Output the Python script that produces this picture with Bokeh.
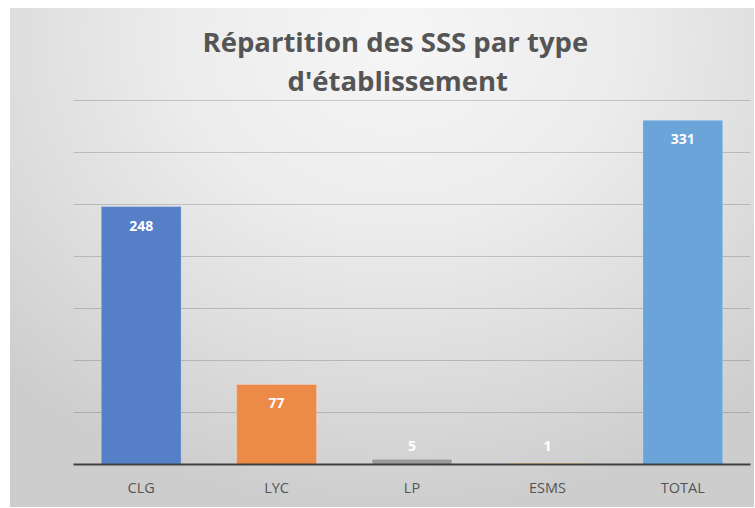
from bokeh.plotting import figure
from bokeh.models import ColumnDataSource, Title, SingleIntervalTicker, FactorRange, Range1d
from bokeh.core.properties import value
from bokeh.embed import file_html
from bokeh.resources import INLINE

# Data
categories = ["CLG", "LYC", "LP", "ESMS", "TOTAL"]
counts = [248, 77, 5, 1, 331]
bar_colors = ["#5580C8", "#EC8A48", "#9A9A9A", "#FFC000", "#6AA4D8"]
title_line1 = "Répartition des SSS par type"
title_line2 = "d'établissement"
y_max = 351
grid_step = 50

# label positions: inside the bar top, but kept above the baseline for tiny bars
label_min = 36
label_y = [max(v, label_min) for v in counts]
label_txt = [str(v) for v in counts]

src = ColumnDataSource(dict(cat=categories, v=counts, color=bar_colors,
                            ly=label_y, lt=label_txt))

p = figure(width=744, height=499, output_backend="svg", toolbar_location=None,
           x_range=FactorRange(*categories, range_padding=0),
           y_range=Range1d(0, y_max),
           min_border_left=63, min_border_right=4, min_border_top=91,
           min_border_bottom=43)

p.background_fill_alpha = 0
p.border_fill_alpha = 0
p.outline_line_color = None
p.styles = {"margin-left": "10px", "margin-top": "8px",
            "background-image":
            "radial-gradient(ellipse 75% 95% at 52% 6%, #f6f6f6 0%, #ececec 40%, #dcdcdc 72%, #cdcdcd 100%)"}

p.vbar(x="cat", top="v", width=0.59, fill_color="color", line_color="white",
       line_alpha=0.25, line_width=1, source=src)

p.text(x="cat", y="ly", text="lt", source=src, text_color="white",
       text_font=value("Open Sans"), text_font_style="bold", text_font_size="14px",
       text_align="center", text_baseline="middle", y_offset=19)

# axes
p.yaxis.visible = False
p.ygrid[0].ticker = SingleIntervalTicker(interval=grid_step)
p.ygrid.grid_line_color = "#000000"
p.ygrid.grid_line_alpha = 0.17
p.ygrid.grid_line_width = 1
p.xgrid.grid_line_color = None

p.xaxis.axis_line_color = "#404040"
p.xaxis.axis_line_width = 2
p.xaxis.major_tick_line_color = None
p.xaxis.minor_tick_line_color = None
p.xaxis.major_tick_out = 0
p.xaxis.major_tick_in = 0
p.xaxis.major_label_standoff = 13
p.xaxis.major_label_text_font = "Open Sans"
p.xaxis.major_label_text_font_size = "14.5px"
p.xaxis.major_label_text_color = "#555555"

# titles (added inner line first)
t2 = Title(text=title_line2, align="left", text_font="Open Sans",
           text_font_size="27.5px", text_font_style="bold", text_color="#555555",
           standoff=1, offset=214)
t1 = Title(text=title_line1, align="left", text_font="Open Sans",
           text_font_size="27.5px", text_font_style="bold", text_color="#555555",
           standoff=0, offset=129)
p.add_layout(t2, "above")
p.add_layout(t1, "above")

open("out.html", "w").write(file_html(p, INLINE))
